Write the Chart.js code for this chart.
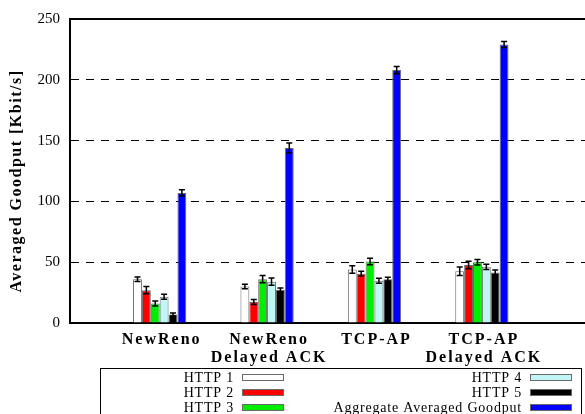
<!DOCTYPE html>
<html><head><meta charset="utf-8">
<script src="https://cdn.jsdelivr.net/npm/chart.js@4/dist/chart.umd.min.js"></script>
<style>html,body{margin:0;padding:0;background:#fff;}#wrap{width:585px;height:414px;position:relative;}</style>
</head><body><div id="wrap"><canvas id="c" width="585" height="414"></canvas></div>
<script>
const categories = [["NewReno"], ["NewReno", "Delayed ACK"], ["TCP-AP"], ["TCP-AP", "Delayed ACK"]];
const seriesNames = ["HTTP 1", "HTTP 2", "HTTP 3", "HTTP 4", "HTTP 5", "Aggregate Averaged Goodput"];
const http1 = [36, 30, 44, 42.5];
const http2 = [27, 17.3, 40.6, 47.7];
const http3 = [16, 36, 50.6, 50];
const http4 = [21.6, 34, 34.7, 46.2];
const http5 = [7, 27.3, 36, 41.5];
const aggregate = [107, 144, 208, 229];
const http1Err = [1.8, 1.8, 3, 3.5];
const http2Err = [3, 2, 2, 3];
const http3Err = [2, 3, 2.7, 2.3];
const http4Err = [2, 3, 2, 2.2];
const http5Err = [1.3, 1.5, 1.6, 2];
const aggregateErr = [2.5, 4, 3, 2.5];
const yTicks = [0, 50, 100, 150, 200, 250];
const yTitle = "Averaged Goodput [Kbit/s]";

const seriesValues = [http1, http2, http3, http4, http5, aggregate];
const seriesErrors = [http1Err, http2Err, http3Err, http4Err, http5Err, aggregateErr];
const seriesColors = ["#ffffff", "#ff0000", "#00ee00", "#bff7f7", "#000000", "#0000ff"];

const datasets = seriesNames.map((name, k) => ({
  label: name,
  data: seriesValues[k].map((v, i) => ({x: i, y: v})),
  errors: seriesErrors[k],
  backgroundColor: seriesColors[k],
  borderColor: "#6a6a6a",
  borderWidth: 1,
  categoryPercentage: 0.496,
  barPercentage: 1.0
}));

const customDraw = {
  id: 'customDraw',
  afterDatasetsDraw(chart) {
    const ctx = chart.ctx;
    const ys = chart.scales.y;
    ctx.save();
    ctx.strokeStyle = '#000';
    ctx.lineWidth = 1.5;
    chart.data.datasets.forEach((ds, k) => {
      const meta = chart.getDatasetMeta(k);
      meta.data.forEach((bar, i) => {
        const v = ds.data[i].y, e = ds.errors[i];
        const yt = ys.getPixelForValue(v + e), yb = ys.getPixelForValue(v - e);
        const x = bar.x;
        ctx.beginPath();
        ctx.moveTo(x, yt); ctx.lineTo(x, yb);
        ctx.moveTo(x - 3, yt); ctx.lineTo(x + 3, yt);
        ctx.moveTo(x - 3, yb); ctx.lineTo(x + 3, yb);
        ctx.stroke();
      });
    });
    ctx.restore();
  },
  afterDraw(chart) {
    const ctx = chart.ctx;
    const ca = chart.chartArea;
    const xs = chart.scales.x;
    ctx.save();
    ctx.strokeStyle = '#000';
    ctx.lineWidth = 2;
    ctx.beginPath();
    ctx.moveTo(ca.left - 1, chart.scales.y.getPixelForValue(250));
    ctx.lineTo(ca.right, chart.scales.y.getPixelForValue(250));
    ctx.stroke();

    ctx.fillStyle = '#000';
    ctx.font = 'bold 16px "Liberation Serif"';
    ctx.letterSpacing = '2px';
    ctx.textAlign = 'center';
    ctx.textBaseline = 'middle';
    categories.forEach((lines, i) => {
      const x = xs.getPixelForValue(i) + 2;
      lines.forEach((t, j) => ctx.fillText(t, x, 340 + j * 18));
    });

    ctx.save();
    ctx.translate(17, 181);
    ctx.rotate(-Math.PI / 2);
    ctx.font = 'bold 16px "Liberation Serif"';
    ctx.letterSpacing = '1.5px';
    ctx.textAlign = 'center';
    ctx.textBaseline = 'middle';
    ctx.fillText(yTitle, 0, 0);
    ctx.restore();

    ctx.letterSpacing = '0.8px';
    ctx.lineWidth = 1;
    ctx.strokeStyle = '#000';
    ctx.strokeRect(100.5, 368.5, 481, 60);
    ctx.font = '14px "Liberation Serif"';
    ctx.textAlign = 'right';
    ctx.textBaseline = 'middle';
    const rows = [377.5, 392.5, 407.5];
    chart.data.datasets.forEach((ds, k) => {
      const col = k < 3 ? 0 : 1;
      const row = k % 3;
      const tx = col === 0 ? 234 : 522;
      const sx = col === 0 ? 242 : 530;
      const y = rows[row];
      ctx.fillStyle = '#000';
      ctx.fillText(ds.label, tx, y + 1);
      ctx.fillStyle = ds.backgroundColor;
      ctx.fillRect(sx, y - 3.5, 42, 7);
      ctx.strokeStyle = '#6a6a6a';
      ctx.strokeRect(sx + 0.5, y - 3.5 + 0.5, 41, 6);
    });
    ctx.restore();
  }
};

new Chart(document.getElementById('c'), {
  type: 'bar',
  data: {datasets},
  options: {
    responsive: false,
    animation: false,
    layout: {padding: {top: 12, right: 0, left: 0, bottom: 0}},
    plugins: {legend: {display: false}, tooltip: {enabled: false}},
    scales: {
      x: {
        type: 'linear',
        offset: false,
        min: -0.835,
        max: 3.96,
        afterBuildTicks: s => { s.ticks = categories.map((c, i) => ({value: i})); },
        grid: {display: false, drawTicks: false, offset: false},
        border: {display: true, color: '#000', width: 2},
        ticks: {display: false},
        afterFit: s => { s.height = 91; }
      },
      y: {
        type: 'linear',
        min: 0,
        max: 250,
        afterBuildTicks: s => { s.ticks = yTicks.map(v => ({value: v})); },
        ticks: {color: '#000', font: {family: '"Liberation Serif"', size: 15}, padding: 10},
        grid: {
          drawTicks: false,
          lineWidth: 1,
          color: c => (c.tick && (c.tick.value === 0 || c.tick.value === 250)) ? 'rgba(0,0,0,0)' : '#000'
        },
        border: {display: true, color: '#000', width: 2, dash: [8, 7]},
        afterFit: s => { s.width = 70; }
      }
    }
  },
  plugins: [customDraw]
});
</script>
</body></html>
